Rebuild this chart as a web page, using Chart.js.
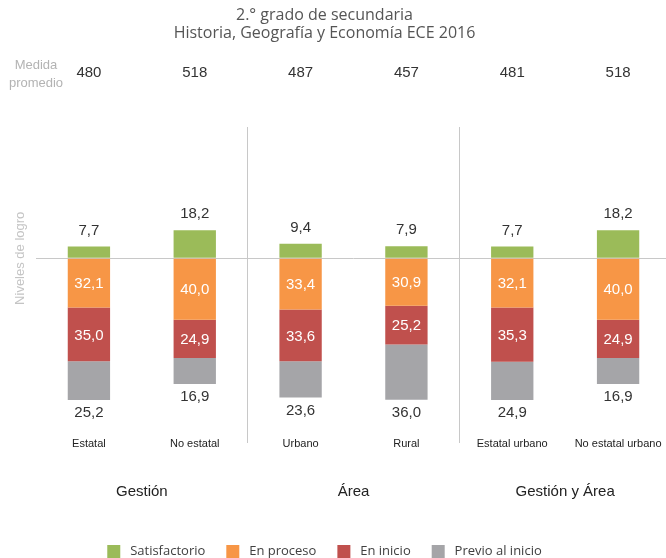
<!DOCTYPE html>
<html>
<head>
<meta charset="utf-8">
<script src="https://cdn.jsdelivr.net/npm/chart.js@4.4.0/dist/chart.umd.min.js"></script>
<style>
  html, body { margin: 0; padding: 0; background: #fff; overflow: hidden; }
  #wrap { width: 666px; height: 558px; overflow: hidden; position: relative; }
  #myChart { position: absolute; left: -22px; top: 0; }
</style>
</head>
<body>
<div id="wrap"><canvas id="myChart" width="693" height="568"></canvas></div>
<script>
// Datos del gráfico
const categorias = ['Estatal', 'No estatal', 'Urbano', 'Rural', 'Estatal urbano', 'No estatal urbano'];
const grupos = ['Gestión', 'Área', 'Gestión y Área'];
const medidaPromedio = [480, 518, 487, 457, 481, 518];
const satisfactorio = [7.7, 18.2, 9.4, 7.9, 7.7, 18.2];
const enProceso = [32.1, 40.0, 33.4, 30.9, 32.1, 40.0];
const enInicio = [35.0, 24.9, 33.6, 25.2, 35.3, 24.9];
const previoAlInicio = [25.2, 16.9, 23.6, 36.0, 24.9, 16.9];

const colores = ['#9bbb59', '#f79646', '#c0504d', '#a5a5a8'];
const fmt = v => v.toFixed(1).replace('.', ',');
const fuente = '"Liberation Sans", Arial, sans-serif';

// Textos adicionales: medida promedio, niveles de logro, etiquetas
const textosPlugin = {
    id: 'textos',
    afterDatasetsDraw(chart) {
        const c = chart.ctx;
        const base = chart.scales.y.getPixelForValue(0);
        const meta0 = chart.getDatasetMeta(0);
        c.save();
        c.textAlign = 'center';
        c.textBaseline = 'middle';

        // Medida promedio
        c.fillStyle = '#b3b3b3';
        c.font = '13px ' + fuente;
        c.fillText('Medida', 58, 65);
        c.fillText('promedio', 58, 83);
        c.fillStyle = '#333';
        c.font = '15px ' + fuente;
        medidaPromedio.forEach((v, i) => c.fillText(String(v), meta0.data[i].x, 73));

        // Título del eje vertical
        c.save();
        c.translate(42, base);
        c.rotate(-Math.PI / 2);
        c.fillStyle = '#c4c4c4';
        c.font = '13px ' + fuente;
        c.fillText('Niveles de logro', 0, 0);
        c.restore();

        // Etiquetas de valores
        c.font = '15px ' + fuente;
        chart.data.datasets.forEach((ds, d) => {
            const meta = chart.getDatasetMeta(d);
            meta.data.forEach((bar, i) => {
                const val = Math.abs(ds.data[i]);
                if (d === 0) {
                    c.fillStyle = '#333';
                    c.fillText(fmt(val), bar.x, bar.y - 16);
                } else if (d === 3) {
                    c.fillStyle = '#333';
                    c.fillText(fmt(val), bar.x, bar.y + 13);
                } else {
                    c.fillStyle = '#fff';
                    c.fillText(fmt(val), bar.x, (bar.y + bar.base) / 2 + 1);
                }
            });
        });

        // Categorías
        c.fillStyle = '#222';
        c.font = '11px ' + fuente;
        chart.data.labels.forEach((lab, i) => c.fillText(lab, meta0.data[i].x, 444));

        // Grupos
        c.font = '15px ' + fuente;
        grupos.forEach((g, k) => {
            const x = (meta0.data[2 * k].x + meta0.data[2 * k + 1].x) / 2;
            c.fillText(g, x, 492);
        });
        c.restore();
    }
};

const ctx = document.getElementById('myChart').getContext('2d');
const myChart = new Chart(ctx, {
    type: 'bar',
    data: {
        labels: categorias,
        datasets: [
            { label: 'Satisfactorio', data: satisfactorio, backgroundColor: colores[0] },
            { label: 'En proceso', data: enProceso.map(v => -v), backgroundColor: colores[1] },
            { label: 'En inicio', data: enInicio.map(v => -v), backgroundColor: colores[2] },
            { label: 'Previo al inicio', data: previoAlInicio.map(v => -v), backgroundColor: colores[3] }
        ]
    },
    options: {
        responsive: false,
        animation: false,
        datasets: {
            bar: { categoryPercentage: 1, barPercentage: 0.4, borderWidth: 0 }
        },
        plugins: {
            tooltip: { enabled: false },
            title: {
                display: true,
                text: ['2.° grado de secundaria', 'Historia, Geografía y Economía ECE 2016'],
                color: '#555',
                font: { family: '"Open Sans", sans-serif', size: 16, weight: 'normal', lineHeight: 1.125 },
                padding: { top: 6, bottom: 85 }
            },
            legend: {
                position: 'bottom',
                labels: {
                    boxWidth: 13,
                    boxHeight: 13,
                    padding: 21,
                    color: '#404040',
                    font: { family: '"Open Sans", sans-serif', size: 13 },
                    generateLabels: chart => {
                        const items = Chart.defaults.plugins.legend.labels.generateLabels(chart);
                        items.forEach(it => { it.text = ' ' + it.text; });
                        return items;
                    }
                }
            }
        },
        scales: {
            x: {
                stacked: true,
                grid: {
                    offset: true,
                    drawTicks: false,
                    color: c => (c.index === 2 || c.index === 4) ? '#c8c8c8' : 'rgba(0,0,0,0)'
                },
                border: { display: false },
                ticks: { display: false },
                afterFit: s => { s.height = 81; }
            },
            y: {
                stacked: true,
                min: -120.3,
                max: 85.5,
                afterBuildTicks: s => { s.ticks = [{ value: 0 }]; },
                grid: {
                    drawTicks: false,
                    color: c => (c.tick && c.tick.value === 0) ? '#c8c8c8' : 'rgba(0,0,0,0)'
                },
                border: { display: false },
                ticks: { display: false },
                afterFit: s => { s.width = 58; }
            }
        }
    },
    plugins: [textosPlugin]
});
</script>
</body>
</html>
